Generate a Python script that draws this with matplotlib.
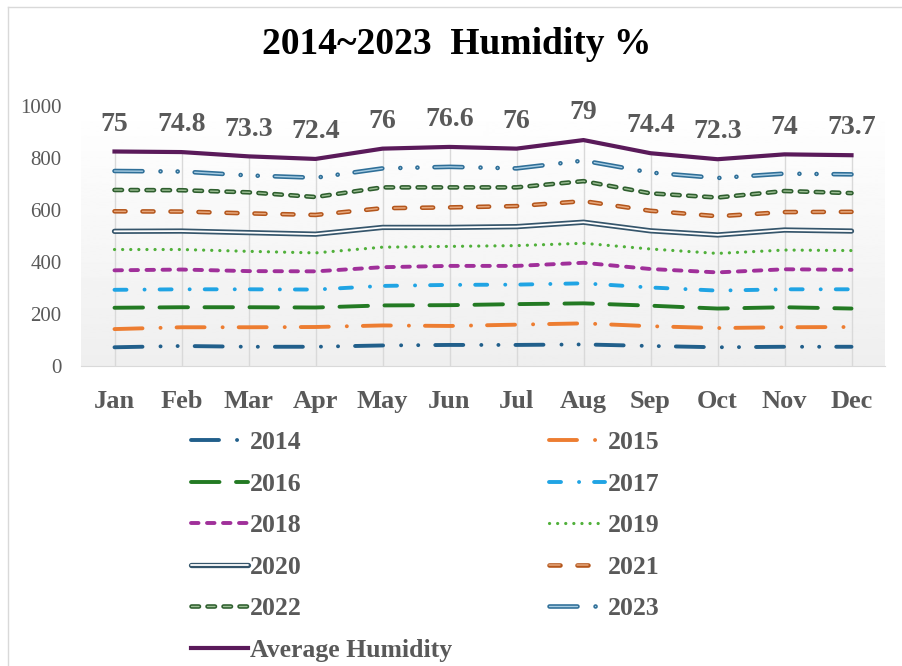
import numpy as np
import matplotlib
matplotlib.use("Agg")
import matplotlib.pyplot as plt
import matplotlib.patheffects as pe
from matplotlib.lines import Line2D

months = ['Jan', 'Feb', 'Mar', 'Apr', 'May', 'Jun', 'Jul', 'Aug', 'Sep', 'Oct', 'Nov', 'Dec']
years = ['2014', '2015', '2016', '2017', '2018', '2019', '2020', '2021', '2022', '2023']

h2014 = [72, 77, 74, 74, 79, 81, 81, 83, 77, 72, 74, 74]
h2015 = [70, 72, 75, 76, 77, 73, 78, 81, 76, 74, 75, 76]
h2016 = [82, 77, 77, 75, 77, 80, 79, 77, 79, 75, 77, 71]
h2017 = [69, 69, 69, 69, 75, 78, 75, 77, 70, 69, 69, 74]
h2018 = [75, 76, 70, 70, 72, 73, 72, 79, 71, 70, 77, 75]
h2019 = [80, 77, 76, 71, 77, 75, 78, 75, 77, 73, 74, 74]
h2020 = [70, 71, 72, 72, 76, 73, 73, 81, 70, 71, 77, 75]
h2021 = [77, 75, 74, 74, 74, 77, 79, 81, 77, 72, 69, 74]
h2022 = [82, 82, 81, 69, 80, 77, 72, 77, 67, 72, 81, 72]
h2023 = [73, 72, 65, 74, 73, 79, 73, 79, 80, 75, 67, 72]
avg_humidity = [75, 74.8, 73.3, 72.4, 76, 76.6, 76, 79, 74.4, 72.3, 74, 73.7]

series = [h2014, h2015, h2016, h2017, h2018, h2019, h2020, h2021, h2022, h2023]

plt.rcParams['font.family'] = ['Liberation Serif', 'DejaVu Serif']
plt.rcParams['lines.scale_dashes'] = False

PX = 0.72  # pixels -> points at dpi 100


def dash(*px):
    return [v * PX for v in px]


# (color, linewidth pt, dash pattern in px, outline color, outline width)
styles = [
    ('#215F8B', 2.8, dash(28, 18, 0.1, 17, 0.1, 17), None, None),
    ('#ED7D31', 2.8, dash(28, 18, 0.1, 16), None, None),
    ('#237A23', 2.8, dash(28.5, 16.5), None, None),
    ('#20A4E4', 2.8, dash(12, 18, 0.1, 15), None, None),
    ('#A0309A', 2.8, dash(7.5, 8.5), None, None),
    ('#50B03A', 2.3, dash(0.1, 8), None, None),
    ('#FFFFFF', 1.3, None, '#35556B', 3.8),
    ('#E6A77C', 1.1, dash(11, 17), '#B4561C', 3.3),
    ('#9DBF95', 1.0, dash(7.5, 8.5), '#2E5E2E', 3.3),
    ('#A8CDE3', 1.0, dash(28, 18, 0.1, 17, 0.1, 17), '#2F6F98', 3.3),
]

fig = plt.figure(figsize=(9.02, 6.66), dpi=100)
ax = fig.add_axes([81 / 902, 1 - 366 / 666, (885 - 81) / 902, 260 / 666])

x = np.arange(len(months))
cum = np.cumsum(np.array(series, dtype=float), axis=0)
top = cum[-1] + np.array(avg_humidity)

# background gradient
grad = np.linspace(0.935, 1.0, 256).reshape(-1, 1)
ax.imshow(grad, extent=(-0.5, 11.5, 0, 1000), origin='lower', aspect='auto',
          cmap='gray', vmin=0, vmax=1, zorder=0)
ax.vlines(x, 0, top, color='#D9D9D9', lw=1, zorder=1)

handles = []
for yr, vals, (c, lw, ds, oc, ow) in zip(years, cum, styles):
    line, = ax.plot(x, vals, color=c, lw=lw, label=yr, zorder=3,
                    solid_capstyle='round', dash_capstyle='round')
    if ds is not None:
        line.set_dashes(ds)
    if oc is not None:
        line.set_path_effects([pe.Stroke(linewidth=ow, foreground=oc), pe.Normal()])
    handles.append(line)

avg_line, = ax.plot(x, top, color='#5A1A5A', lw=3.0, label='Average Humidity', zorder=4)
handles.append(avg_line)

for xi, yi, v in zip(x, top, avg_humidity):
    ax.annotate(f'{v:g}', (xi, yi), xytext=(0, 15), textcoords='offset points',
                ha='center', va='baseline', fontsize=20, fontweight='bold', color='#595959')

ax.set_xlim(-0.5, 11.5)
ax.set_ylim(0, 1000)
ax.set_yticks(range(0, 1001, 200))
ax.set_xticks(x)
ax.set_xticklabels(months, fontsize=19, fontweight='bold', color='#595959')
ax.tick_params(axis='y', length=0, pad=14, labelsize=15, labelcolor='#595959')
ax.tick_params(axis='x', length=0, pad=17)
for s in ['left', 'right', 'top']:
    ax.spines[s].set_visible(False)
ax.spines['bottom'].set_color('#D9D9D9')
ax.spines['bottom'].set_zorder(2)

fig.text(0.506, 1 - 45 / 666, '2014~2023  Humidity %', ha='center', va='center',
         fontsize=27, fontweight='bold', color='black')

order = [0, 2, 4, 6, 8, 10, 1, 3, 5, 7, 9]
leg = fig.legend([handles[i] for i in order], [handles[i].get_label() for i in order],
                 ncol=2, loc='upper left', bbox_to_anchor=(168 / 902, 1 - 408 / 666),
                 frameon=False, prop={'size': 18.5, 'weight': 'bold'},
                 handlelength=2.2, handletextpad=0.1, labelspacing=0.72,
                 columnspacing=3.75)
for t in leg.get_texts():
    t.set_color('#595959')

# chart border (left and top visible)
fig.add_artist(Line2D([8 / 902, 8 / 902], [0, 1 - 7 / 666], transform=fig.transFigure,
                      color='#D9D9D9', lw=1))
fig.add_artist(Line2D([8 / 902, 1], [1 - 7 / 666, 1 - 7 / 666], transform=fig.transFigure,
                      color='#D9D9D9', lw=1))

fig.savefig('out.png', dpi=100, facecolor='white')
